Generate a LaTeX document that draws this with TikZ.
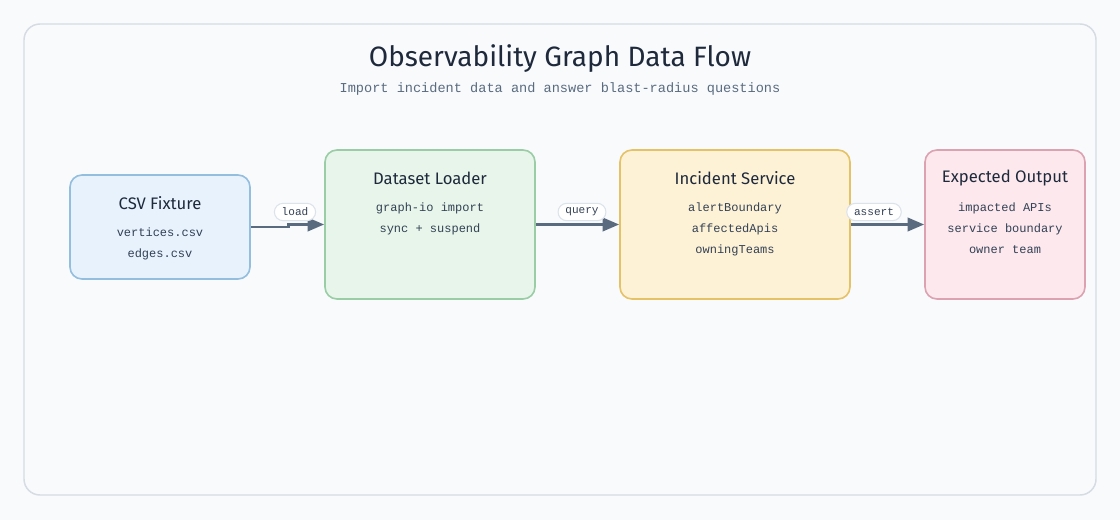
\documentclass[tikz,border=0pt]{standalone}
\usepackage{fontspec}
\setmainfont{Fira Sans}
\setmonofont{Liberation Mono}
\usetikzlibrary{positioning,arrows.meta}

\definecolor{pagebg}{HTML}{F8FAFC}
\definecolor{framecol}{HTML}{D6DCE4}
\definecolor{inkdark}{HTML}{1E293B}
\definecolor{inkbody}{HTML}{334155}
\definecolor{inksub}{HTML}{5A6B80}
\definecolor{flowcol}{HTML}{5B6B7F}
\definecolor{pillcol}{HTML}{DDE3EA}
\definecolor{csvfill}{HTML}{E7F2FD}
\definecolor{csvline}{HTML}{93BEDE}
\definecolor{loadfill}{HTML}{E7F5EA}
\definecolor{loadline}{HTML}{9ACDA5}
\definecolor{incfill}{HTML}{FEF2D6}
\definecolor{incline}{HTML}{E6C266}
\definecolor{expfill}{HTML}{FCE8ED}
\definecolor{expline}{HTML}{DDA2B1}

\begin{document}
\begin{tikzpicture}[x=0.75pt,y=-0.75pt]
		\begin{scope}
		
		\tikzstyle{mybox}=[rectangle,
		rounded corners=9pt,
		line width=1.2pt,
		inner sep=0pt,
		minimum height=111.75pt
		]
		\tikzstyle{boxtitle}=[inner sep=0pt, text=inkdark, font=\fontsize{12.5}{15}\selectfont]
		\tikzstyle{boxbody}=[inner sep=0pt, anchor=north, align=center, text=inkbody,
		font=\ttfamily\fontsize{9}{15.75}\selectfont]
		\tikzstyle{flow}=[line width=2.2pt, draw=flowcol,
		-{Triangle[length=12.5pt,width=10pt]}]
		\tikzstyle{pill}=[rounded corners=6.5pt, fill=white, draw=pillcol, line width=0.8pt,
		inner xsep=5.5pt, inner ysep=0pt, minimum height=13pt, text=inkbody,
		font=\ttfamily\fontsize{8.3}{10}\selectfont]
		
		\fill[pagebg] (0,0) rectangle (1120,520);
		\draw[framecol, line width=1.1pt, rounded corners=12pt] (24,24) rectangle (1096,495);
		
		\node[text=inkdark, font=\fontsize{21}{25}\selectfont] (title) at (560,59) {Observability Graph Data Flow};
		\node[text=inksub, font=\ttfamily\fontsize{10.2}{12}\selectfont] (subtitle) at (560,89) {Import incident data and answer blast-radius questions};
		
		\coordinate (pcsv) at (160, 227);
		\coordinate (pload) at (430, 224.5);
		\coordinate (pinc) at (735, 224.5);
		\coordinate (pexp) at (1005, 224.5);
		
		\node[mybox, fill=csvfill, draw=csvline, minimum width=135pt, minimum height=78pt] (csv) at (pcsv) {};
		\node[mybox, fill=loadfill, draw=loadline, minimum width=157.5pt] (loader) at (pload) {};
		\node[mybox, fill=incfill, draw=incline, minimum width=172.5pt] (incident) at (pinc) {};
		\node[mybox, fill=expfill, draw=expline, minimum width=120pt] (expected) at (pexp) {};
		
		\node[boxtitle] (csvt) at ([yshift=-21.5pt]csv.north) {CSV Fixture};
		\node[boxtitle] (loadert) at ([yshift=-21.5pt]loader.north) {Dataset Loader};
		\node[boxtitle] (incidentt) at ([yshift=-21.5pt]incident.north) {Incident Service};
		\node[boxtitle] (expectedt) at ([yshift=-21.5pt]expected.north) {Expected Output};
		
		\node[boxbody] (csvb) at ([yshift=-40pt]csv.north) {vertices.csv\\edges.csv};
		\node[boxbody] (loaderb) at ([yshift=-40pt]loader.north) {graph-io import\\sync + suspend};
		\node[boxbody] (incidentb) at ([yshift=-40pt]incident.north) {alertBoundary\\affectedApis\\owningTeams};
		\node[boxbody] (expectedb) at ([yshift=-40pt]expected.north) {impacted APIs\\service boundary\\owner team};
		
		\draw[flow] (csv.east) -- ++(38,0) |- (loader.west);
		\draw[flow] (loader.east) -- (incident.west);
		\draw[flow] (incident.east) -- (expected.west);
		
		\node[pill] (loadl) at (295,212) {load};
		\node[pill] (queryl) at (582,212) {query};
		\node[pill] (assertl) at (874,212) {assert};
		
		\end{scope}
\end{tikzpicture}
\end{document}
